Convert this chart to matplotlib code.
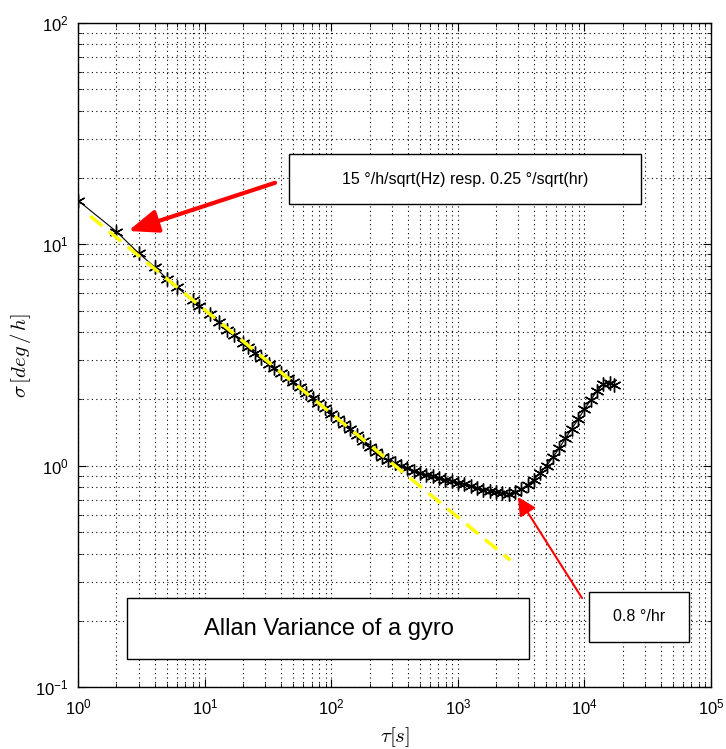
import matplotlib
matplotlib.use('Agg')
import matplotlib.pyplot as plt
from matplotlib.patches import Rectangle

plt.rcParams['font.family'] = ['Liberation Sans', 'DejaVu Sans']
plt.rcParams['mathtext.fontset'] = 'cm'

# averaging time tau [s] and Allan deviation sigma [deg/h]
tau = [1, 2, 3, 4, 5, 6, 8, 9, 11, 13, 15, 17,
       20, 22, 25, 28, 32, 35, 40, 45, 50, 56, 63, 71, 79, 89,
       100, 112, 126, 141, 158, 178, 200, 224, 251, 282, 316, 355, 398, 447,
       501, 562, 631, 708, 794, 891, 1000, 1122, 1259, 1413, 1585, 1778, 1995,
       2239, 2512, 2818, 3162, 3548, 3981, 4467, 5012, 5623, 6310, 7079, 7943,
       8913, 10000, 11220, 12589, 14125, 15849, 17000]
sigma = [15.7, 11.4, 9.1, 7.9, 7.0, 6.4, 5.6, 5.25, 4.85, 4.45, 4.12, 3.88,
         3.58, 3.42, 3.22, 3.05, 2.88, 2.76, 2.62, 2.48, 2.38, 2.26, 2.14,
         2.03, 1.92, 1.82,
         1.72, 1.63, 1.54, 1.46, 1.38, 1.29, 1.22, 1.15, 1.10, 1.06, 1.03,
         1.0, 0.975, 0.95, 0.93, 0.91, 0.895, 0.88, 0.865, 0.85, 0.838, 0.825,
         0.81, 0.795, 0.78, 0.77, 0.76, 0.752, 0.745, 0.76, 0.785, 0.82,
         0.865, 0.93, 1.0, 1.09, 1.2, 1.33, 1.47, 1.62, 1.80, 1.98, 2.18,
         2.34, 2.36, 2.31]

# angle random walk fit line (yellow)
tau_fit = [1.24, 2590]
sigma_fit = [13.4, 0.375]

fig = plt.figure(figsize=(7.26, 7.49), dpi=100)
ax = fig.add_axes([0.108, 0.0824, 0.8713, 0.8873])

ax.plot(tau, sigma, color='black', lw=0.8, marker=(6, 2, 0), ms=10,
        mew=1.0, zorder=3)
ax.plot(tau_fit, sigma_fit, color='yellow', lw=2.5, ls=(0, (4.5, 2.5)), zorder=4)

ax.set_xscale('log')
ax.set_yscale('log')
ax.set_xlim(1, 1e5)
ax.set_ylim(0.1, 100)

ax.grid(True, which='both', color='black', ls=(0, (1, 3)), lw=0.8)
ax.tick_params(which='both', direction='in', top=True, right=True,
               labelsize=12, pad=7)
ax.tick_params(which='major', length=6)
ax.tick_params(which='minor', length=3)
for s in ax.spines.values():
    s.set_linewidth(1.0)

ax.set_xlabel(r'$\tau[s]$', fontsize=15, labelpad=6)
ax.set_ylabel(r'$\sigma\,[deg\,/\,h]$', fontsize=15, labelpad=2)

# text boxes
boxes = [
    (0.3333, 0.7272, 0.5561, 0.0752, '15 °/h/sqrt(Hz) resp. 0.25 °/sqrt(hr)', 11.5),
    (0.0776, 0.0421, 0.6354, 0.0918, 'Allan Variance of a gyro', 17),
    (0.8068, 0.0682, 0.1581, 0.0752, '0.8 °/hr', 11.5),
]
for x0, y0, w, h, txt, fs in boxes:
    ax.add_patch(Rectangle((x0, y0), w, h, transform=ax.transAxes,
                           facecolor='white', edgecolor='black', lw=1.0,
                           zorder=6))
    ax.text(x0 + w / 2, y0 + h / 2, txt, transform=ax.transAxes,
            ha='center', va='center', fontsize=fs, zorder=7)

ax.annotate('', xy=(0.0786, 0.6866), xytext=(0.3109, 0.7591),
            xycoords='axes fraction', textcoords='axes fraction',
            arrowprops=dict(arrowstyle='-|>,head_length=0.9,head_width=0.35',
                            mutation_scale=20, color='red', lw=3,
                            shrinkA=0, shrinkB=0), zorder=8)
ax.annotate('', xy=(0.6949, 0.2863), xytext=(0.7961, 0.1343),
            xycoords='axes fraction', textcoords='axes fraction',
            arrowprops=dict(arrowstyle='-|>,head_length=0.55,head_width=0.28',
                            mutation_scale=20, color='red', lw=1.5,
                            shrinkA=0, shrinkB=0), zorder=8)

fig.savefig('out.png', dpi=100)
